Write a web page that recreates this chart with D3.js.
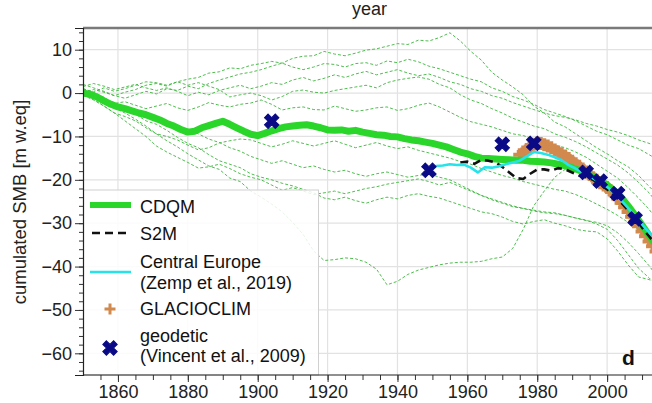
<!DOCTYPE html>
<html>
<head>
<meta charset="utf-8">
<script src="https://cdn.jsdelivr.net/npm/d3@7/dist/d3.min.js"></script>
<style>
  html, body { margin: 0; padding: 0; background: #fff; overflow: hidden; }
  svg { display: block; font-family: "Liberation Sans", Arial, Helvetica, sans-serif; }
</style>
</head>
<body>
<svg id="chart" width="652" height="403"></svg>
<script>
// ---- data -------------------------------------------------------------
const xTicksMajor = [1860, 1880, 1900, 1920, 1940, 1960, 1980, 2000];
const yTicksMajor = [-60, -50, -40, -30, -20, -10, 0, 10];

// CDQM reconstruction (cumulated SMB, m w.eq)
const cdqmYears = [1850,1852,1854,1856,1858,1860,1862,1864,1866,1868,1870,1872,1874,1876,1878,1880,1882,1884,1886,1888,1890,1892,1894,1896,1898,1900,1902,1904,1906,1908,1910,1912,1914,1916,1918,1920,1922,1924,1926,1928,1930,1932,1934,1936,1938,1940,1942,1944,1946,1948,1950,1952,1954,1956,1958,1960,1962,1964,1966,1968,1970,1972,1974,1976,1978,1980,1982,1984,1986,1988,1990,1992,1994,1996,1998,2000,2002,2004,2006,2008,2010,2012,2014];
const cdqmValues = [0,-0.3,-0.9,-1.8,-2.6,-3.2,-3.6,-4.1,-4.6,-5.0,-5.6,-6.2,-7.0,-7.6,-8.4,-9.0,-8.8,-8.0,-7.5,-7.0,-6.5,-7.2,-8.0,-8.8,-9.5,-9.8,-9.3,-8.7,-8.2,-7.8,-7.6,-7.4,-7.3,-7.6,-8.0,-8.5,-8.6,-8.5,-8.8,-8.6,-9.0,-9.3,-9.6,-9.7,-10.0,-10.1,-10.5,-10.8,-11.0,-11.3,-11.6,-12.0,-12.4,-13.0,-13.6,-14.0,-14.6,-15.0,-15.1,-15.2,-15.3,-15.4,-15.5,-15.5,-15.7,-15.8,-15.9,-16.1,-16.4,-16.8,-17.2,-17.8,-18.5,-19.3,-20.2,-21.2,-22.5,-24.0,-26.0,-28.2,-30.5,-32.8,-35.0];

// S2M
const s2mYears = [1958,1960,1962,1964,1966,1968,1970,1972,1974,1976,1978,1980,1982,1984,1986,1988,1990,1992,1994,1996,1998,2000,2002,2004,2006,2008,2010,2012,2014];
const s2mValues = [-16.0,-15.8,-16.3,-15.4,-15.6,-16.0,-17.0,-18.3,-19.6,-19.8,-18.6,-17.6,-17.6,-17.9,-17.3,-17.6,-18.3,-19.0,-19.4,-20.0,-21.0,-22.2,-23.5,-25.2,-27.0,-29.0,-31.0,-33.0,-35.0];

// Central Europe (Zemp et al., 2019)
const zempYears = [1950,1951,1953,1955,1957,1959,1961,1963,1965,1967,1969,1971,1973,1975,1977,1979,1981,1983,1985,1987,1989,1991,1993,1995,1997,1999,2001,2003,2005,2007,2009,2011,2013,2015];
const zempValues = [-17.5,-16.8,-16.7,-16.4,-16.6,-16.5,-17.2,-18.3,-17.1,-17.2,-16.9,-16.4,-16.0,-15.6,-14.6,-13.6,-13.8,-14.2,-14.8,-15.5,-16.6,-17.4,-18.3,-19.2,-20.1,-21.0,-22.3,-23.8,-25.6,-27.4,-29.3,-31.2,-33.0,-34.6];

// GLACIOCLIM
const glacioYears = [1975,1976,1977,1978,1979,1980,1981,1982,1983,1984,1985,1986,1987,1988,1989,1990,1991,1992,1993,1994,1995,1996,1997,1998,1999,2000,2001,2002,2003,2004,2005,2006,2007,2008,2009,2010,2011,2012,2013,2014];
const glacioValues = [-14.2,-13.6,-13.0,-12.3,-11.8,-11.5,-11.6,-11.9,-12.2,-12.6,-13.1,-13.6,-14.0,-14.5,-15.1,-15.7,-16.3,-16.9,-17.5,-18.2,-18.8,-19.5,-20.1,-20.7,-21.2,-21.8,-22.5,-23.3,-24.3,-25.3,-26.3,-27.4,-28.5,-29.6,-30.7,-31.9,-33.0,-34.2,-35.3,-36.5];

// geodetic (Vincent et al., 2009)
const geoYears = [1904, 1949, 1970, 1979, 1994, 1998, 2003, 2008];
const geoValues = [-6.5, -17.8, -11.8, -11.6, -18.3, -20.3, -23.2, -29.0];

// ensemble members (thin dashed), one value every 3 years
const ensYears = [1850,1853,1856,1859,1862,1865,1868,1871,1874,1877,1880,1883,1886,1889,1892,1895,1898,1901,1904,1907,1910,1913,1916,1919,1922,1925,1928,1931,1934,1937,1940,1943,1946,1949,1952,1955,1958,1961,1964,1967,1970,1973,1976,1979,1982,1985,1988,1991,1994,1997,2000,2003,2006,2009,2012,2015];
const ensA = [1.0,0.2,1.2,0.4,1.0,1.8,2.6,2.4,1.8,2.6,3.2,3.6,4.6,4.9,5.8,5.6,6.4,6.8,7.3,6.9,8.0,8.5,8.6,9.6,9.0,8.6,9.2,9.9,10.2,10.8,11.4,11.2,12.2,12.0,12.8,13.9,12.0,9.6,7.6,4.8,3.0,1.4,-0.4,-3.0,-4.6,-6.7,-7.8,-9.4,-11.0,-12.6,-14.0,-15.6,-17.0,-19.0,-21.5,-24.0];
const ensB = [0.0,0.8,0.2,-0.6,-1.2,-0.4,0.4,-0.2,1.0,0.6,1.6,1.0,2.2,3.0,3.7,4.4,4.8,5.4,6.2,6.9,6.0,5.4,6.0,6.8,6.6,6.0,6.8,7.0,6.4,7.4,7.0,7.8,7.2,6.2,5.6,4.8,4.0,3.2,2.6,1.2,0.4,-0.8,-1.6,-2.6,-3.8,-4.6,-5.4,-6.4,-7.6,-8.8,-9.6,-10.8,-12.0,-12.8,-14.2,-15.6];
const ensC = [2.0,1.2,0.4,-0.6,0.2,0.8,1.8,2.2,1.6,2.6,1.8,2.4,1.6,0.8,-0.9,-0.4,0.0,-0.6,-1.6,-0.8,0.4,0.7,0.2,0.0,0.6,1.0,1.4,1.8,1.2,2.4,3.0,3.4,3.7,3.2,2.0,1.2,-0.4,-1.6,-2.4,-3.6,-4.6,-5.8,-6.7,-7.6,-8.2,-9.4,-10.2,-11.2,-12.4,-13.8,-15.2,-16.6,-18.4,-20.6,-23.0,-26.0];
const ensD = [0.5,-0.4,-1.4,-2.4,-2.0,-2.8,-3.6,-3.0,-2.4,-3.4,-4.0,-3.2,-2.2,-2.8,-3.2,-2.6,-2.3,-1.6,-2.6,-3.9,-3.4,-3.2,-3.8,-3.9,-3.0,-3.6,-4.2,-3.9,-3.4,-3.2,-4.0,-3.6,-2.8,-2.3,-3.2,-4.4,-5.6,-6.6,-7.2,-7.8,-8.6,-9.4,-9.8,-10.6,-11.2,-12.0,-12.6,-13.6,-14.8,-16.4,-18.0,-19.6,-21.8,-24.2,-26.8,-30.0];
const ensE = [-0.5,-1.6,-3.0,-4.6,-5.4,-6.4,-8.0,-9.4,-10.0,-10.8,-12.0,-13.1,-12.6,-11.5,-11.0,-10.6,-10.8,-11.6,-12.4,-11.8,-11.0,-11.6,-12.2,-11.6,-11.0,-11.8,-12.6,-12.0,-11.4,-12.2,-12.8,-12.4,-13.2,-13.8,-14.4,-15.0,-15.8,-16.4,-17.4,-18.2,-19.0,-19.6,-20.4,-21.0,-21.6,-22.2,-22.6,-23.4,-24.4,-25.6,-26.8,-28.2,-29.8,-31.6,-33.8,-36.0];
const ensF = [0.0,-1.4,-3.0,-4.6,-6.4,-8.2,-10.0,-12.2,-13.6,-14.8,-16.0,-17.3,-17.0,-16.4,-17.4,-18.6,-19.4,-20.0,-21.2,-22.4,-21.8,-22.6,-23.4,-23.0,-22.6,-23.2,-22.6,-22.0,-21.6,-21.0,-20.6,-20.2,-19.8,-20.4,-21.2,-20.6,-21.6,-22.6,-23.6,-24.6,-25.4,-26.2,-26.6,-27.2,-27.6,-27.8,-28.2,-28.8,-29.4,-29.8,-30.6,-32.2,-34.4,-37.0,-39.8,-43.0];
const ensG = [0.5,-0.6,-2.0,-3.4,-4.6,-6.0,-7.6,-9.4,-11.0,-12.4,-14.0,-15.4,-16.8,-17.6,-19.6,-20.4,-22.6,-24.0,-25.6,-27.4,-29.8,-32.6,-36.4,-38.6,-38.4,-38.0,-38.2,-39.0,-40.6,-44.2,-43.4,-41.8,-40.8,-40.2,-39.6,-39.2,-39.0,-39.0,-38.8,-38.2,-37.8,-35.8,-31.4,-26.0,-22.6,-19.4,-17.6,-17.0,-18.0,-19.4,-21.2,-23.4,-26.0,-29.0,-32.0,-35.0];
const ensH = [1.0,0.2,-1.0,-2.6,-3.6,-4.8,-6.4,-7.2,-8.6,-10.2,-11.6,-12.6,-14.2,-15.6,-16.4,-17.2,-18.6,-19.4,-20.0,-20.8,-21.4,-22.2,-23.0,-24.2,-24.6,-24.0,-24.8,-25.4,-24.6,-24.0,-24.4,-23.6,-23.2,-23.8,-24.2,-25.0,-25.8,-26.6,-27.4,-27.8,-28.6,-29.6,-30.2,-29.6,-29.2,-30.0,-30.6,-31.4,-31.8,-32.0,-33.6,-36.4,-39.6,-42.4,-43.0,-44.0];
const ensI = [0.0,-0.8,-1.6,-2.2,-3.4,-4.2,-5.2,-6.0,-6.8,-7.6,-8.4,-9.4,-10.6,-11.4,-12.6,-13.4,-14.6,-15.4,-16.2,-15.6,-16.4,-17.2,-16.8,-17.6,-18.2,-17.8,-18.6,-19.2,-18.6,-18.2,-18.8,-19.4,-19.0,-18.6,-19.4,-20.0,-21.2,-22.4,-23.6,-24.4,-25.2,-26.0,-26.6,-27.0,-27.4,-27.6,-28.2,-28.8,-29.3,-30.2,-31.4,-34.0,-37.2,-40.4,-42.6,-45.0];
const ensJ = [1.5,2.2,1.6,0.8,1.4,2.0,1.2,0.6,1.2,0.4,-0.6,0.2,-0.4,0.6,1.2,1.8,1.0,1.6,2.4,2.0,3.0,3.6,2.8,3.4,4.2,3.6,4.4,5.0,4.2,4.8,5.4,4.6,4.0,4.4,3.6,2.6,2.0,1.0,0.4,-0.6,-1.2,-2.2,-3.0,-3.8,-4.6,-5.2,-5.6,-6.2,-7.0,-7.6,-8.4,-9.0,-9.8,-10.8,-11.6,-12.6];
const ensemble = [ensA, ensB, ensC, ensD, ensE, ensF, ensG, ensH, ensI, ensJ];

// legend entries
const legendLabels = [["CDQM"], ["S2M"], ["Central Europe", "(Zemp et al., 2019)"], ["GLACIOCLIM"], ["geodetic", "(Vincent et al., 2009)"]];

// ---- layout -----------------------------------------------------------
const svg = d3.select("#chart");
const mLeft = 83, mTop = 28, mBottom = 375, mRight = 677;
const x = d3.scaleLinear().domain([1850, 2020]).range([mLeft, mRight]);
const y = d3.scaleLinear().domain([-65, 15]).range([mBottom, mTop]);

const C = {
  cdqm: "#2bd62b", ens: "#3bb53b", s2m: "#111", zemp: "#26e3ea",
  glacio: "#d2894e", geo: "#0a0a86", grid: "#e2e2e2"
};

svg.append("defs").append("clipPath").attr("id", "plotclip")
  .append("rect").attr("x", mLeft).attr("y", mTop).attr("width", mRight - mLeft).attr("height", mBottom - mTop);

// grid
const grid = svg.append("g");
grid.selectAll(".gx").data(xTicksMajor).join("line")
  .attr("x1", d => x(d)).attr("x2", d => x(d)).attr("y1", mTop).attr("y2", mBottom)
  .attr("stroke", C.grid).attr("stroke-width", 1.2);
grid.selectAll(".gy").data(yTicksMajor).join("line")
  .attr("x1", mLeft).attr("x2", mRight).attr("y1", d => y(d)).attr("y2", d => y(d))
  .attr("stroke", C.grid).attr("stroke-width", 1.2);

const plot = svg.append("g").attr("clip-path", "url(#plotclip)");

const line = (yrs) => d3.line().x((d, i) => x(yrs[i])).y(d => y(d)).curve(d3.curveLinear);

// ensemble members
plot.selectAll(".ens").data(ensemble).join("path")
  .attr("d", d => line(ensYears)(d))
  .attr("fill", "none").attr("stroke", C.ens).attr("stroke-width", 0.9)
  .attr("stroke-dasharray", "3,2");

// GLACIOCLIM markers
function plusPath(s) {
  return `M${-s},0H${s}M0,${-s}V${s}`;
}
plot.selectAll(".gl").data(glacioValues).join("path")
  .attr("transform", (d, i) => `translate(${x(glacioYears[i])},${y(d)})`)
  .attr("d", plusPath(6.5))
  .attr("stroke", C.glacio).attr("stroke-width", 4).attr("fill", "none");

// CDQM
plot.append("path").attr("d", line(cdqmYears)(cdqmValues))
  .attr("fill", "none").attr("stroke", C.cdqm).attr("stroke-width", 7)
  .attr("stroke-linejoin", "round");

// S2M
plot.append("path").attr("d", line(s2mYears)(s2mValues))
  .attr("fill", "none").attr("stroke", C.s2m).attr("stroke-width", 2.6)
  .attr("stroke-dasharray", "8,5");

// Central Europe
plot.append("path").attr("d", line(zempYears)(zempValues))
  .attr("fill", "none").attr("stroke", C.zemp).attr("stroke-width", 2.6)
  .attr("stroke-linejoin", "round");

// geodetic
const xMark = d3.symbol().type(d3.symbolCross).size(130);
plot.selectAll(".geo").data(geoValues).join("path")
  .attr("transform", (d, i) => `translate(${x(geoYears[i])},${y(d)}) rotate(45)`)
  .attr("d", xMark()).attr("fill", C.geo).attr("stroke", C.geo).attr("stroke-width", 1);

// ---- legend -----------------------------------------------------------
const lg = svg.append("g");
lg.append("rect").attr("x", mLeft + 0.5).attr("y", 190).attr("width", 235).attr("height", mBottom - 190)
  .attr("fill", "#fff").attr("fill-opacity", 0.85).attr("stroke", "#d0d0d0").attr("stroke-width", 1);
const lx0 = 90, lx1 = 131, tx = 140;
lg.append("line").attr("x1", lx0).attr("x2", lx1).attr("y1", 205).attr("y2", 205)
  .attr("stroke", C.cdqm).attr("stroke-width", 6);
lg.append("line").attr("x1", lx0 + 2).attr("x2", lx1).attr("y1", 233).attr("y2", 233)
  .attr("stroke", C.s2m).attr("stroke-width", 2.6).attr("stroke-dasharray", "8,5");
lg.append("line").attr("x1", lx0).attr("x2", lx1).attr("y1", 272).attr("y2", 272)
  .attr("stroke", C.zemp).attr("stroke-width", 2.6);
lg.append("path").attr("transform", "translate(110,309)").attr("d", plusPath(5.5))
  .attr("stroke", C.glacio).attr("stroke-width", 3).attr("fill", "none");
lg.append("path").attr("transform", "translate(110,348) rotate(45)").attr("d", xMark())
  .attr("fill", C.geo).attr("stroke", C.geo).attr("stroke-width", 1);

const baselines = [[213], [240], [268, 289], [315], [342, 362]];
legendLabels.forEach((lines, i) => {
  lines.forEach((t, j) => {
    lg.append("text").attr("x", tx).attr("y", baselines[i][j]).attr("font-size", 18)
      .attr("fill", "#111").text(t);
  });
});

// ---- axes -------------------------------------------------------------
// top frame
svg.append("line").attr("x1", mLeft).attr("x2", 652).attr("y1", mTop).attr("y2", mTop)
  .attr("stroke", "#7a7a7a").attr("stroke-width", 2.5);

const yMinor = svg.append("g").attr("transform", `translate(${mLeft},0)`)
  .call(d3.axisLeft(y).tickValues(d3.range(-64, 15, 2)).tickSize(4).tickFormat(""));
const yMajor = svg.append("g").attr("transform", `translate(${mLeft},0)`)
  .call(d3.axisLeft(y).tickValues(yTicksMajor).tickSize(8).tickPadding(3));
const xMinor = svg.append("g").attr("transform", `translate(0,${mBottom})`)
  .call(d3.axisBottom(x).tickValues(d3.range(1855, 2016, 5)).tickSize(5).tickFormat(""));
const xMajor = svg.append("g").attr("transform", `translate(0,${mBottom})`)
  .call(d3.axisBottom(x).tickValues(xTicksMajor).tickSize(7).tickPadding(3).tickFormat(d3.format("d")));

[yMinor, yMajor, xMinor, xMajor].forEach(g => {
  g.select(".domain").attr("stroke", "#222").attr("stroke-width", 1.2);
  g.selectAll(".tick line").attr("stroke", "#333");
  g.selectAll("text").attr("font-size", 18).attr("fill", "#222")
    .attr("font-family", "'Liberation Sans', Arial, sans-serif");
});
xMinor.select(".domain").remove();
xMajor.select(".domain").attr("d", `M${mLeft},0H652`);
yMinor.select(".domain").remove();

// axis titles
svg.append("text").attr("transform", "translate(26,202) rotate(-90)")
  .attr("text-anchor", "middle").attr("font-size", 18.5).attr("fill", "#222")
  .text("cumulated SMB [m w.eq]");
svg.append("text").attr("x", 352).attr("y", 15).attr("font-size", 18).attr("fill", "#222")
  .text("year");

// panel letter
svg.append("text").attr("x", 622).attr("y", 365).attr("font-size", 21).attr("font-weight", "bold")
  .attr("fill", "#111").text("d");
</script>
</body>
</html>
